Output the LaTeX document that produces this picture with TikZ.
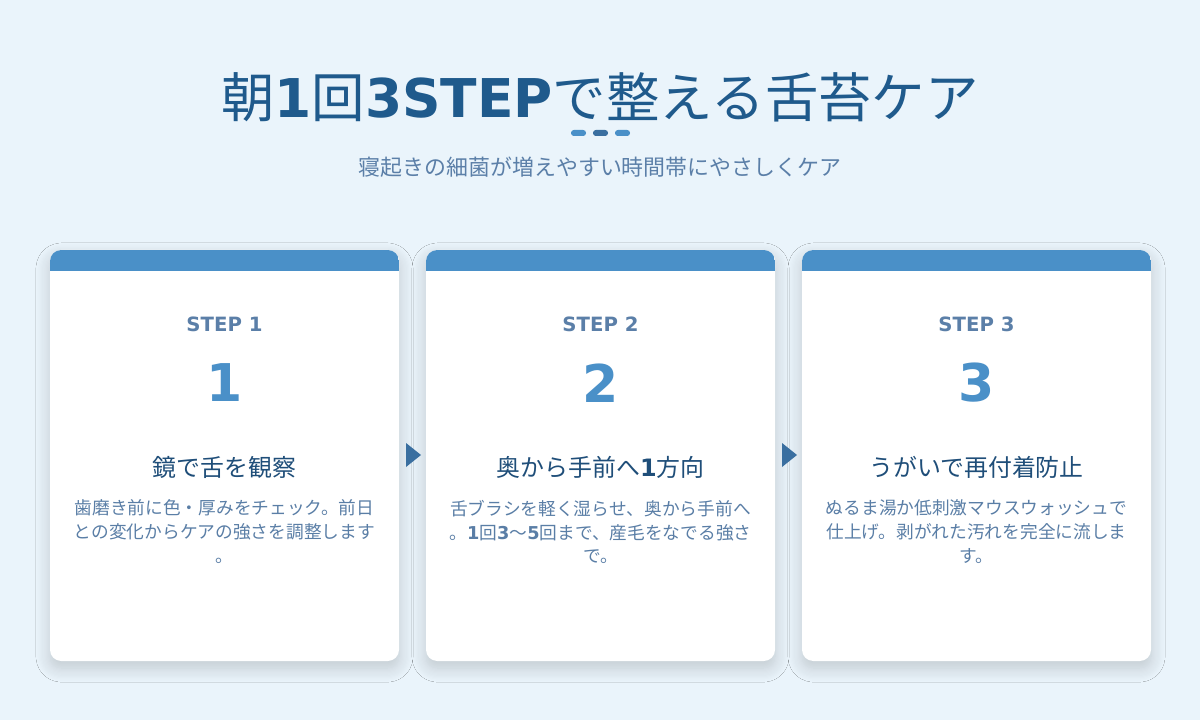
\documentclass[tikz,border=0pt]{standalone}
\usepackage{fontspec}
\setmainfont{DejaVu Sans}
\newfontfamily\cjk{Noto Sans CJK JP}
\usetikzlibrary{shadows.blur}
\definecolor{bgblue}{HTML}{EAF4FB}
\definecolor{titleblue}{HTML}{1F5A8C}
\definecolor{subblue}{HTML}{5B7FA8}
\definecolor{barblue}{HTML}{4A90C8}
\definecolor{darkbar}{HTML}{3A6FA0}
\definecolor{headblue}{HTML}{1F4E79}
\definecolor{bodyblue}{HTML}{5A7EA6}
\newcommand{\dig}[1]{{\rmfamily\bfseries #1}}
\begin{document}
\begin{tikzpicture}[x=0.025cm,y=-0.025cm,
  card/.style={fill=white,rounded corners=8pt,blur shadow={shadow blur steps=12,shadow blur radius=10pt,shadow xshift=0pt,shadow yshift=-5pt,shadow opacity=18}},
  steplabel/.style={text=subblue,font=\bfseries\fontsize{14}{16}\selectfont},
  bignum/.style={text=barblue,font=\bfseries\fontsize{37}{40}\selectfont},
  cardhead/.style={text=headblue,font=\cjk\fontsize{17}{20}\selectfont},
  cardbody/.style={text=bodyblue,align=center,font=\cjk\fontsize{12.6}{17}\selectfont},
  dot/.style={fill=#1,rounded corners=2pt}]
  \fill[bgblue] (0,0) rectangle (1200,720);
  \useasboundingbox (0,0) rectangle (1200,720);
  % title
  \node[text=titleblue,font=\cjk\fontsize{38}{42}\selectfont] (title) at (600,97)
    {朝\dig{1}回\dig{3STEP}で整える舌苔ケア};
  \fill[dot=barblue] (571,130) rectangle (586,136);
  \fill[dot=darkbar] (593,130) rectangle (608,136);
  \fill[dot=barblue] (615,130) rectangle (630,136);
  \node[text=subblue,font=\cjk\fontsize{15.6}{18}\selectfont] (sub) at (600,167)
    {寝起きの細菌が増えやすい時間帯にやさしくケア};
  % cards
  \foreach \i/\x in {1/50,2/426,3/802}{
    \path[card] (\x,250) rectangle ++(349,411);
    \begin{scope}
      \clip[rounded corners=8pt] (\x,250) rectangle ++(349,411);
      \fill[barblue] (\x,250) rectangle ++(349,21);
    \end{scope}
    \node[steplabel] (lab\i) at (\x+174.5,324) {STEP \i};
    \node[bignum] (num\i) at (\x+174.5,383) {\i};
  }
  \node[cardhead] (head1) at (224.5,467) {鏡で舌を観察};
  \node[cardhead] (head2) at (600.5,467) {奥から手前へ\dig{1}方向};
  \node[cardhead] (head3) at (976.5,467) {うがいで再付着防止};
  \node[cardbody,anchor=north] (body1) at (224.5,495)
    {歯磨き前に色・厚みをチェック。前日\\との変化からケアの強さを調整します\\。};
  \node[cardbody,anchor=north] (body2) at (600.5,495)
    {舌ブラシを軽く湿らせ、奥から手前へ\\。\dig{1}回\dig{3}〜\dig{5}回まで、産毛をなでる強さ\\で。};
  \node[cardbody,anchor=north] (body3) at (976.5,495)
    {ぬるま湯か低刺激マウスウォッシュで\\仕上げ。剥がれた汚れを完全に流しま\\す。};
  % arrows
  \fill[darkbar] (406,443) -- (421,455) -- (406,467) -- cycle;
  \fill[darkbar] (782,443) -- (797,455) -- (782,467) -- cycle;
\end{tikzpicture}
\end{document}
